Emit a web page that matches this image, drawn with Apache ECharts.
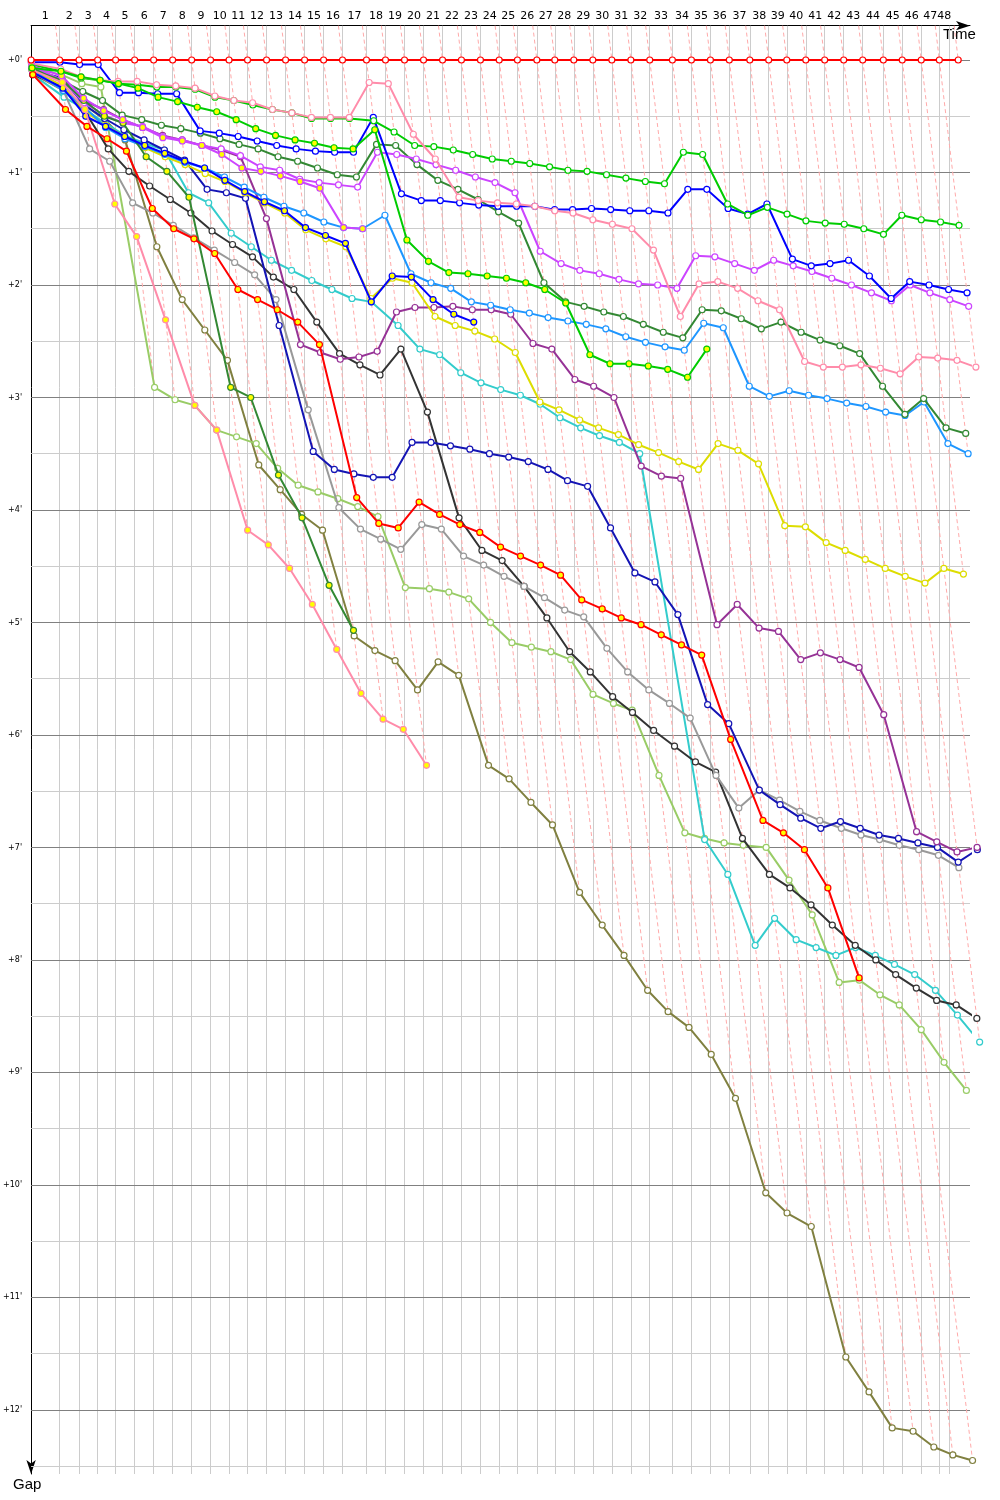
<!DOCTYPE html>
<html><head><meta charset="utf-8">
<script src="https://cdn.jsdelivr.net/npm/echarts@6/dist/echarts.min.js"></script>
<style>html,body{margin:0;padding:0;background:#fff}#c{width:1000px;height:1500px}</style>
</head><body><div id="c"></div>
<script>
// Leader's cumulative race time (minutes) at the end of each lap (index = lap, 0 = start)
const leaderLapEnd = [0,2.13,3.58,4.97,6.31,7.73,9.15,10.57,11.99,13.40,14.78,16.16,17.58,19.00,20.42,21.84,23.25,25.04,26.46,27.88,29.30,30.72,32.13,33.55,34.95,36.31,37.76,39.10,40.52,41.94,43.36,44.78,46.19,47.88,49.30,50.72,52.13,53.66,55.07,56.42,57.84,59.25,60.67,62.09,63.63,65.04,66.46,67.81,69.22];
// lap boundary marks of the time axis (grid lines) and their labels
const lapMarks = [2.13,3.58,4.97,6.31,7.73,9.15,10.57,11.99,13.40,14.78,16.16,17.58,19.00,20.42,21.84,23.25,25.04,26.46,27.88,29.30,30.72,32.13,33.55,34.95,36.31,37.76,39.10,40.52,41.94,43.36,44.78,46.19,47.88,49.30,50.72,52.13,53.66,55.07,56.42,57.84,59.25,60.67,62.09,63.63,65.04,66.46,67.81,68.55];
const lapLabels = ['1','2','3','4','5','6','7','8','9','10','11','12','13','14','15','16','17','18','19','20','21','22','23','24','25','26','27','28','29','30','31','32','33','34','35','36','37','38','39','40','41','42','43','44','45','46','47','48'];
const gapTicks = [0,1,2,3,4,5,6,7,8,9,10,11,12];

// Gap to leader (minutes) at the end of each lap, index = lap
const leader = [0,0,0,0,0,0,0,0,0,0,0,0,0,0,0,0,0,0,0,0,0,0,0,0,0,0,0,0,0,0,0,0,0,0,0,0,0,0,0,0,0,0,0,0,0,0,0,0,0];
const greenW = [0.04,0.10,0.16,0.18,0.21,0.22,0.24,0.24,0.26,0.33,0.36,0.40,0.44,0.47,0.52,0.52,0.52,0.54,0.64,0.76,0.77,0.80,0.84,0.88,0.90,0.92,0.95,0.98,0.99,1.02,1.05,1.08,1.10,0.82,0.84,1.28,1.38,1.31,1.37,1.43,1.45,1.46,1.50,1.55,1.38,1.42,1.44,1.47];
const pinkW = [0.03,0.08,0.15,0.18,0.19,0.19,0.22,0.23,0.25,0.32,0.36,0.38,0.44,0.47,0.51,0.51,0.51,0.20,0.21,0.66,0.88,1.22,1.25,1.27,1.28,1.30,1.34,1.36,1.42,1.46,1.50,1.69,2.28,1.99,1.97,2.03,2.14,2.22,2.68,2.73,2.73,2.71,2.74,2.79,2.64,2.65,2.67,2.73];
const blueW = [0.02,0.02,0.04,0.04,0.29,0.29,0.30,0.30,0.63,0.65,0.68,0.72,0.76,0.79,0.81,0.82,0.82,0.51,1.19,1.25,1.25,1.27,1.29,1.30,1.30,1.30,1.33,1.33,1.32,1.33,1.34,1.34,1.36,1.15,1.15,1.32,1.37,1.28,1.77,1.83,1.81,1.78,1.92,2.12,1.97,2.00,2.04,2.07];
const violetW = [0.05,0.18,0.38,0.49,0.56,0.59,0.68,0.71,0.76,0.79,0.85,0.95,0.98,1.06,1.09,1.11,1.13,0.82,0.84,0.88,0.93,0.98,1.04,1.09,1.18,1.70,1.81,1.87,1.90,1.95,1.99,2.00,2.03,1.74,1.75,1.81,1.87,1.78,1.83,1.88,1.94,2.00,2.07,2.14,2.00,2.07,2.13,2.19];
const dkgreenW = [0.07,0.18,0.28,0.36,0.49,0.53,0.58,0.61,0.65,0.70,0.75,0.79,0.86,0.90,0.96,1.02,1.04,0.75,0.76,0.93,1.07,1.15,1.24,1.35,1.45,1.98,2.15,2.19,2.24,2.28,2.35,2.42,2.47,2.22,2.23,2.30,2.39,2.33,2.42,2.49,2.54,2.61,2.90,3.15,3.01,3.27,3.32];
const ltblue = [0.09,0.27,0.42,0.60,0.70,0.77,0.84,0.91,0.96,1.04,1.13,1.22,1.30,1.36,1.44,1.49,1.50,1.38,1.90,1.98,2.03,2.15,2.18,2.22,2.25,2.29,2.32,2.35,2.39,2.46,2.51,2.55,2.58,2.34,2.38,2.90,2.99,2.94,2.98,3.01,3.05,3.08,3.13,3.16,3.04,3.41,3.50];
const yellowS = [0.09,0.23,0.46,0.58,0.68,0.78,0.86,0.93,1.01,1.08,1.18,1.27,1.36,1.51,1.59,1.66,2.12,1.94,1.98,2.28,2.36,2.41,2.48,2.60,3.04,3.11,3.20,3.27,3.33,3.42,3.49,3.57,3.64,3.41,3.47,3.59,4.14,4.15,4.29,4.36,4.44,4.52,4.59,4.65,4.52,4.57];
const purple = [0.07,0.18,0.36,0.44,0.53,0.60,0.67,0.71,0.76,0.80,0.86,1.41,2.53,2.60,2.66,2.64,2.59,2.24,2.20,2.20,2.19,2.22,2.22,2.26,2.52,2.57,2.84,2.90,3.00,3.61,3.70,3.72,5.02,4.84,5.05,5.08,5.33,5.27,5.33,5.40,5.82,6.86,6.95,7.04,7.00];
const navy = [0.09,0.16,0.40,0.52,0.62,0.71,0.80,0.89,1.15,1.18,1.23,2.36,3.48,3.64,3.68,3.71,3.71,3.40,3.40,3.43,3.46,3.50,3.53,3.57,3.64,3.74,3.79,4.16,4.56,4.64,4.93,5.73,5.90,6.49,6.62,6.74,6.83,6.77,6.83,6.89,6.92,6.96,7.00,7.13,7.02];
const gray = [0.11,0.27,0.79,0.90,1.27,1.36,1.47,1.58,1.69,1.80,1.91,2.13,3.11,3.98,4.17,4.26,4.35,4.13,4.17,4.41,4.49,4.59,4.68,4.78,4.89,4.95,5.23,5.44,5.60,5.72,5.85,6.36,6.65,6.49,6.58,6.68,6.76,6.83,6.89,6.93,6.98,7.02,7.07,7.18];
const black = [0.13,0.24,0.46,0.79,0.99,1.12,1.24,1.36,1.52,1.64,1.75,1.93,2.04,2.33,2.61,2.71,2.80,2.57,3.13,4.07,4.36,4.45,4.68,4.96,5.26,5.44,5.66,5.80,5.96,6.10,6.24,6.33,6.92,7.24,7.36,7.51,7.69,7.87,8.00,8.13,8.25,8.36,8.40,8.52];
const turq = [0.13,0.33,0.44,0.56,0.67,0.74,0.80,1.18,1.27,1.54,1.66,1.78,1.87,1.96,2.04,2.12,2.15,2.36,2.57,2.62,2.78,2.87,2.93,2.98,3.06,3.18,3.27,3.34,3.40,3.50,6.93,7.24,7.87,7.63,7.82,7.89,7.96,7.89,7.96,8.04,8.13,8.27,8.49,8.73];
const ltolive = [0.07,0.13,0.21,0.24,2.91,3.02,3.07,3.29,3.35,3.41,3.63,3.78,3.84,3.90,3.97,4.06,4.69,4.70,4.73,4.79,5.00,5.18,5.22,5.26,5.33,5.64,5.72,5.78,6.36,6.87,6.92,6.96,6.98,7.00,7.29,7.60,8.20,8.18,8.31,8.40,8.62,8.91,9.16];
const olive = [0.12,0.27,0.40,0.53,0.71,1.66,2.13,2.40,2.67,3.60,3.82,4.04,4.18,5.12,5.25,5.34,5.60,5.35,5.47,6.27,6.39,6.60,6.80,7.40,7.69,7.96,8.27,8.46,8.60,8.84,9.23,10.07,10.25,10.37,11.53,11.84,12.16,12.19,12.33,12.40,12.45];
const greenY = [0.07,0.10,0.15,0.18,0.21,0.25,0.33,0.37,0.42,0.46,0.53,0.61,0.67,0.71,0.74,0.78,0.79,0.62,1.60,1.79,1.89,1.90,1.92,1.94,1.98,2.04,2.16,2.62,2.70,2.70,2.72,2.75,2.82,2.57];
const redY = [0.13,0.44,0.59,0.70,0.81,1.32,1.50,1.59,1.72,2.04,2.13,2.22,2.33,2.53,3.89,4.12,4.16,3.93,4.04,4.13,4.20,4.33,4.41,4.49,4.58,4.80,4.88,4.96,5.02,5.11,5.20,5.29,6.04,6.76,6.87,7.02,7.36,8.16];
const pinkY = [0.09,0.20,0.44,1.28,1.57,2.31,3.07,3.29,4.18,4.31,4.52,4.84,5.24,5.63,5.86,5.95,6.27];
const blueY = [0.11,0.25,0.50,0.59,0.68,0.76,0.83,0.90,0.96,1.07,1.17,1.26,1.34,1.49,1.56,1.63,2.15,1.92,1.93,2.13,2.26,2.33];
const violetY = [0.05,0.14,0.34,0.45,0.53,0.60,0.69,0.72,0.76,0.84,0.96,0.99,1.03,1.08,1.14,1.49,1.50];
const dkgreenY = [0.09,0.18,0.36,0.50,0.56,0.86,0.99,1.22,2.91,3.00,3.69,4.07,4.67,5.07];

const drivers = [
  {gaps: olive, color:'#808040', fill:'#fff'},
  {gaps: ltolive, color:'#99CC66', fill:'#fff'},
  {gaps: turq, color:'#33CCCC', fill:'#fff'},
  {gaps: black, color:'#333333', fill:'#fff'},
  {gaps: gray, color:'#999999', fill:'#fff'},
  {gaps: navy, color:'#1414B4', fill:'#fff'},
  {gaps: purple, color:'#963296', fill:'#fff'},
  {gaps: yellowS, color:'#DDDD00', fill:'#fff'},
  {gaps: ltblue, color:'#1E96FF', fill:'#fff'},
  {gaps: dkgreenW, color:'#338833', fill:'#fff'},
  {gaps: violetW, color:'#CC44FF', fill:'#fff'},
  {gaps: blueW, color:'#0000FF', fill:'#fff'},
  {gaps: greenW, color:'#00CC00', fill:'#fff'},
  {gaps: pinkW, color:'#FF8CAA', fill:'#fff'},
  {gaps: dkgreenY, color:'#338833', fill:'#FFFF00'},
  {gaps: violetY, color:'#CC44FF', fill:'#FFFF00'},
  {gaps: blueY, color:'#0000FF', fill:'#FFFF00'},
  {gaps: pinkY, color:'#FF8CAA', fill:'#FFFF00'},
  {gaps: redY, color:'#FF0000', fill:'#FFFF00'},
  {gaps: greenY, color:'#00CC00', fill:'#FFFF00'},
  {gaps: leader, color:'#FF0000', fill:'#fff'}
];

const X_MAX = 70.1, Y_MIN = -0.305, Y_MAX = 12.57;
const lapMids = lapMarks.map((m, i) => ((i === 0 ? 0 : lapMarks[i-1]) + m) / 2);

const series = [];
// vertical lap grid lines
series.push({type:'lines', coordinateSystem:'cartesian2d', silent:true, z:1, animation:false,
  lineStyle:{color:'#cccccc', width:1, opacity:1},
  data: lapMarks.map(t => ({coords:[[t, Y_MIN],[t, Y_MAX]]}))});
// horizontal half-minute and minute lines
const halfTicks = gapTicks.map(v => v + 0.5);
series.push({type:'lines', coordinateSystem:'cartesian2d', silent:true, z:1, animation:false,
  lineStyle:{color:'#cccccc', width:1, opacity:1},
  data: halfTicks.map(v => ({coords:[[0, v],[X_MAX, v]]}))});
series.push({type:'lines', coordinateSystem:'cartesian2d', silent:true, z:1, animation:false,
  lineStyle:{color:'#808080', width:1, opacity:1},
  data: gapTicks.map(v => ({coords:[[0, v],[X_MAX, v]]}))});
// lap lines (dashed): where cars cross the line at the end of lap n
const lapLines = [];
for (let n = 1; n < leaderLapEnd.length; n++) {
  let gMax = 0;
  drivers.forEach(d => { if (d.gaps.length > n && d.gaps[n] > gMax) gMax = d.gaps[n]; });
  lapLines.push({coords:[[leaderLapEnd[n] + Y_MIN, Y_MIN],[leaderLapEnd[n] + gMax, gMax]]});
}
series.push({type:'lines', coordinateSystem:'cartesian2d', silent:true, z:2, animation:false, clip:false,
  lineStyle:{color:'#FFAAAA', width:1, type:[4,3], opacity:1}, data: lapLines});

drivers.forEach((d, k) => {
  series.push({type:'line', z: 3 + k, animation:false, silent:true, clip:false,
    data: d.gaps.map((g, lap) => [leaderLapEnd[lap] + g, g]),
    symbol:'circle', symbolSize:6, showSymbol:true,
    lineStyle:{color:d.color, width:2},
    itemStyle:{color:d.fill, borderColor:d.color, borderWidth:1.2}
  });
});

const chart = echarts.init(document.getElementById('c'), null, {renderer:'canvas'});
chart.setOption({
  animation:false,
  backgroundColor:'#fff',
  grid:{left:30.7, top:25.7, width:939.3, height:1448.3, containLabel:false},
  xAxis:{type:'value', position:'top', min:0, max:X_MAX,
    axisLine:{show:true, onZero:false, lineStyle:{color:'#000', width:1}, symbol:['none','arrow'], symbolSize:[7,14]},
    axisTick:{show:false}, splitLine:{show:false},
    axisLabel:{customValues: lapMids, margin:4, color:'#000', fontSize:11, fontFamily:'DejaVu Sans',
      formatter: v => { const i = lapMids.findIndex(m => Math.abs(m - v) < 1e-6); return i >= 0 ? lapLabels[i] : ''; }}
  },
  yAxis:{type:'value', inverse:true, min:Y_MIN, max:Y_MAX,
    axisLine:{show:true, onZero:false, lineStyle:{color:'#000', width:1}, symbol:['arrow','none'], symbolSize:[7,14]},
    axisTick:{show:false}, splitLine:{show:false},
    axisLabel:{customValues: gapTicks, margin:9, color:'#000', fontSize:8, fontFamily:'DejaVu Sans',
      formatter: v => '+' + v + "'"}
  },
  graphic:[
    {type:'text', left:943, top:27, style:{text:'Time', font:'15px "Liberation Sans"', fill:'#000'}},
    {type:'text', left:13, top:1477, style:{text:'Gap', font:'15px "Liberation Sans"', fill:'#000'}}
  ],
  series: series
});
</script>
</body></html>
